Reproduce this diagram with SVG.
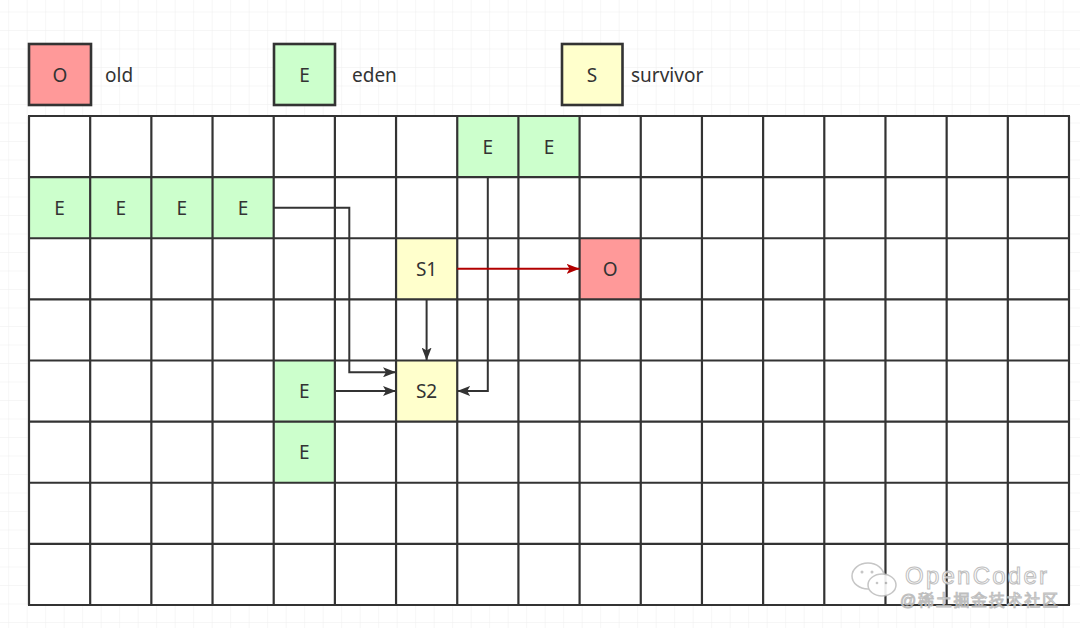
<svg xmlns="http://www.w3.org/2000/svg" width="1080" height="628" viewBox="0 0 1080 628">
<defs>
<pattern id="bg" x="8.2" y="11.5" width="18.5" height="18.5" patternUnits="userSpaceOnUse">
<path d="M0,0 H18.5 M0,0 V18.5" stroke="#eeeeee" stroke-width="1" fill="none"/>
</pattern>
<marker id="ah" viewBox="0 0 13 10" refX="13" refY="5" markerWidth="13" markerHeight="10" markerUnits="userSpaceOnUse" orient="auto">
<path d="M0,0 L13,5 L0,10 L3,5 z" fill="#333333"/>
</marker>
<marker id="ahr" viewBox="0 0 13 10" refX="13" refY="5" markerWidth="13" markerHeight="10" markerUnits="userSpaceOnUse" orient="auto">
<path d="M0,0 L13,5 L0,10 L3,5 z" fill="#b20000"/>
</marker>
</defs>
<style>
.t{font-family:"Noto Sans","Liberation Sans",sans-serif;font-size:19px;fill:#333333;text-anchor:middle;dominant-baseline:central}
.lt{font-family:"Noto Sans","Liberation Sans",sans-serif;font-size:19px;fill:#333333;dominant-baseline:central}
.leg{stroke:#333333;stroke-width:2.6}
.o{fill:#ff9999}
.e{fill:#ccffcc}
.s{fill:#ffffcc}
.c{fill:none;stroke:#333333;stroke-width:2}
.wm{font-family:"Liberation Sans","Noto Sans CJK SC",sans-serif;fill:#ffffff;stroke:#b8b8b8;stroke-width:1}
</style>
<rect width="1080" height="628" fill="#ffffff"/>
<rect width="1080" height="628" fill="url(#bg)"/>

<g id="legend-old">
<rect class="leg o" x="29" y="44" width="62" height="61"/>
<text class="t" x="60" y="74.5">O</text>
<text class="lt" x="105" y="74.5">old</text>
</g>
<g id="legend-eden">
<rect class="leg e" x="274" y="44" width="61" height="61"/>
<text class="t" x="304.5" y="74.5">E</text>
<text class="lt" x="352" y="74.5">eden</text>
</g>
<g id="legend-survivor">
<rect class="leg s" x="562" y="44" width="60.5" height="61"/>
<text class="t" x="592" y="74.5">S</text>
<text class="lt" x="631" y="74.5">survivor</text>
</g>

<g id="grid">
<rect x="29" y="116" width="1040" height="489" fill="#ffffff"/>
</g>

<g id="cells">
<g id="e-r0c7"><rect class="e" x="457.24" y="116" width="61.18" height="61.1"/><text class="t" x="487.8" y="146.6">E</text></g>
<g id="e-r0c8"><rect class="e" x="518.41" y="116" width="61.18" height="61.1"/><text class="t" x="549" y="146.6">E</text></g>
<g id="e-r1c0"><rect class="e" x="29" y="177.1" width="61.18" height="61.15"/><text class="t" x="59.6" y="207.7">E</text></g>
<g id="e-r1c1"><rect class="e" x="90.18" y="177.1" width="61.18" height="61.15"/><text class="t" x="120.8" y="207.7">E</text></g>
<g id="e-r1c2"><rect class="e" x="151.35" y="177.1" width="61.18" height="61.15"/><text class="t" x="181.9" y="207.7">E</text></g>
<g id="e-r1c3"><rect class="e" x="212.53" y="177.1" width="61.18" height="61.15"/><text class="t" x="243.1" y="207.7">E</text></g>
<g id="s1"><rect class="s" x="396.06" y="238.25" width="61.18" height="61.15"/><text class="t" x="426.6" y="268.8">S1</text></g>
<g id="o-r2c9"><rect class="o" x="579.59" y="238.25" width="61.18" height="61.15"/><text class="t" x="610.2" y="268.8">O</text></g>
<g id="e-r4c4"><rect class="e" x="273.7" y="360.5" width="61.18" height="61.1"/><text class="t" x="304.3" y="391">E</text></g>
<g id="s2"><rect class="s" x="396.06" y="360.5" width="61.18" height="61.1"/><text class="t" x="426.6" y="391">S2</text></g>
<g id="e-r5c4"><rect class="e" x="273.7" y="421.6" width="61.18" height="61.15"/><text class="t" x="304.3" y="452.2">E</text></g>
</g>

<g id="gridlines">
<path fill="none" stroke="#333333" stroke-width="2.2" d="M29,116 V605 M90.18,116 V605 M151.35,116 V605 M212.53,116 V605 M273.7,116 V605 M334.88,116 V605 M396.06,116 V605 M457.24,116 V605 M518.41,116 V605 M579.59,116 V605 M640.76,116 V605 M701.94,116 V605 M763.12,116 V605 M824.29,116 V605 M885.47,116 V605 M946.65,116 V605 M1007.82,116 V605 M1069,116 V605 M28,116 H1070 M28,177.1 H1070 M28,238.25 H1070 M28,299.4 H1070 M28,360.5 H1070 M28,421.6 H1070 M28,482.75 H1070 M28,543.9 H1070 M28,605 H1070"/>
</g>

<g id="connectors">
<path class="c" d="M273.7,207.7 H349.3 V372.3 H396" marker-end="url(#ah)"/>
<path class="c" d="M334.9,391 H396" marker-end="url(#ah)"/>
<path class="c" d="M426.6,299.4 V360.5" marker-end="url(#ah)"/>
<path class="c" d="M487.8,177.1 V391 H457.2" marker-end="url(#ah)"/>
<path fill="none" stroke="#b20000" stroke-width="2" d="M457.2,268.8 H579.6" marker-end="url(#ahr)"/>
</g>

<g id="watermark" opacity="0.9">
<ellipse cx="868" cy="576" rx="16" ry="13" fill="none" stroke="#c0c0c0" stroke-width="1.5"/>
<ellipse cx="882" cy="585" rx="14" ry="11" fill="#ffffff" stroke="#c0c0c0" stroke-width="1.5"/>
<circle cx="862" cy="572" r="1.5" fill="#c0c0c0"/>
<circle cx="872" cy="572" r="1.5" fill="#c0c0c0"/>
<circle cx="877" cy="583" r="1.3" fill="#c0c0c0"/>
<circle cx="886" cy="583" r="1.3" fill="#c0c0c0"/>
<text class="wm" x="905" y="584" font-size="24" textLength="142">OpenCoder</text>
<text class="wm" x="900" y="606" font-size="16" textLength="158">@稀土掘金技术社区</text>
</g>
</svg>
